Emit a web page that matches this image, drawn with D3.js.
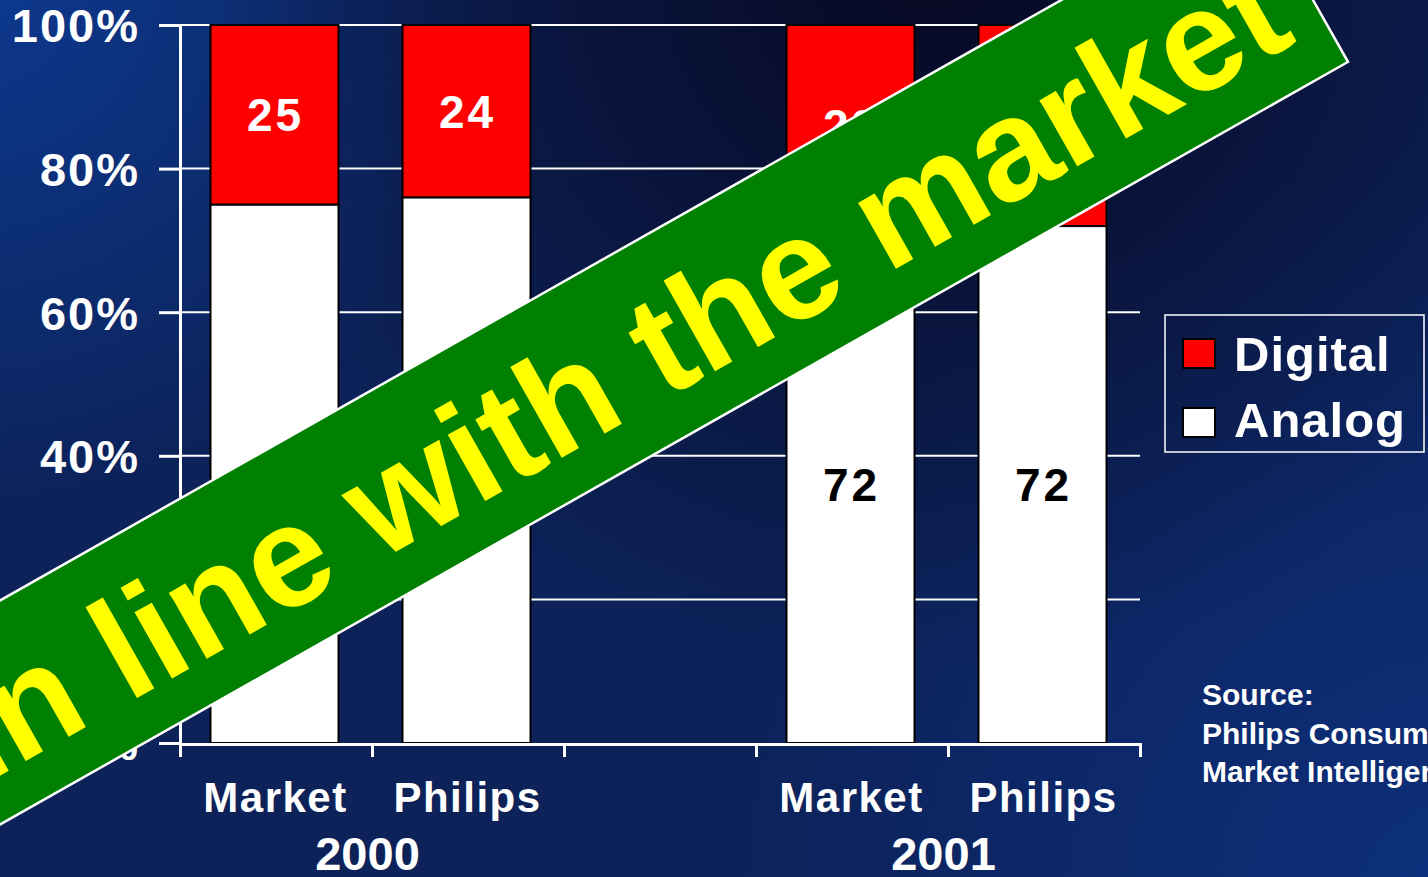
<!DOCTYPE html>
<html>
<head>
<meta charset="utf-8">
<script src="https://cdn.jsdelivr.net/npm/d3@7"></script>
<style>
  html, body { margin: 0; padding: 0; background: #0c2258; overflow: hidden; }
  svg { display: block; font-family: "Liberation Sans", Arial, sans-serif; font-weight: bold; }
</style>
</head>
<body>
<svg id="chart" width="1428" height="877"></svg>
<script>
// ---- data ----
const ids        = ["m2000", "p2000", "gap", "m2001", "p2001"];
const categories = ["Market", "Philips", "", "Market", "Philips"];
const analog     = [75, 76, null, 72, 72];
const digital    = [25, 24, null, 28, 28];
const years      = ["2000", "2001"];
const yearSlots  = [[0, 1], [3, 4]];
const yTicks     = [0, 20, 40, 60, 80, 100];
const seriesNames = ["Digital", "Analog"];
const seriesColors = ["#ff0000", "#ffffff"];
const bannerText = "In line with the market";
const sourceLines = ["Source:", "Philips Consumer Electronics", "Market Intelligence"];

const W = 1428, H = 877;
const svg = d3.select("#chart");

// ---- background ----
const defs = svg.append("defs");
function radial(id, cx, cy, r, color, op) {
  const g = defs.append("radialGradient").attr("id", id)
    .attr("gradientUnits", "userSpaceOnUse").attr("cx", cx).attr("cy", cy).attr("r", r);
  g.append("stop").attr("offset", "0%").attr("stop-color", color).attr("stop-opacity", op);
  g.append("stop").attr("offset", "100%").attr("stop-color", color).attr("stop-opacity", 0);
}
radial("gDark", 930, -40, 720, "#070822", 1);
radial("gTL", -40, -40, 560, "#0d3a92", 1);
radial("gBR", 1460, 900, 760, "#0d2f7c", 1);
svg.append("rect").attr("width", W).attr("height", H).attr("fill", "#0c2258");
svg.append("rect").attr("width", W).attr("height", H).attr("fill", "url(#gBR)");
svg.append("rect").attr("width", W).attr("height", H).attr("fill", "url(#gTL)");
svg.append("rect").attr("width", W).attr("height", H).attr("fill", "url(#gDark)");

// ---- scales ----
const x0 = 180, x1 = 1140, yTop = 25, yBot = 743;
const y = d3.scaleLinear().domain([0, 100]).range([yBot, yTop]);
const xb = d3.scaleBand().domain(ids).range([x0 - 1.5, x1 - 1.5]).paddingInner(1/3).paddingOuter(1/6);
const xl = d3.scaleLinear().domain([0, ids.length]).range([x0, x1]);

// ---- gridlines ----
svg.append("g").selectAll("line").data(yTicks.filter(d => d > 0)).join("line")
  .attr("x1", x0).attr("x2", x1).attr("y1", d => y(d)).attr("y2", d => y(d))
  .attr("stroke", "#ffffff").attr("stroke-width", 2);

// ---- bars ----
const rows = ids.map((id, i) => ({ id, Digital: digital[i], Analog: analog[i] }))
  .filter(r => r.Analog !== null);
const stack = d3.stack().keys(["Analog", "Digital"]);
const stacked = stack(rows);
const colorOf = k => seriesColors[seriesNames.indexOf(k)];

const barG = svg.append("g");
stacked.forEach(layer => {
  barG.append("g").selectAll("rect").data(layer).join("rect")
    .attr("x", d => xb(d.data.id))
    .attr("width", xb.bandwidth())
    .attr("y", d => y(d[1]))
    .attr("height", d => y(d[0]) - y(d[1]))
    .attr("fill", colorOf(layer.key))
    .attr("stroke", "#000000").attr("stroke-width", 2);
  barG.append("g").selectAll("text").data(layer).join("text")
    .attr("x", d => xb(d.data.id) + xb.bandwidth() / 2 + 1)
    .attr("y", d => y((d[0] + d[1]) / 2))
    .attr("dy", "0.36em")
    .attr("text-anchor", "middle")
    .attr("font-size", 46).attr("letter-spacing", 3)
    .attr("fill", layer.key === "Digital" ? "#ffffff" : "#000000")
    .text(d => d.data[layer.key]);
});

// ---- axes ----
const yAxis = d3.axisLeft(y).tickValues(yTicks).tickFormat(d => d + "%")
  .tickSize(21).tickSizeOuter(0).tickPadding(19);
const yg = svg.append("g").attr("transform", `translate(${x0},0)`).call(yAxis);
yg.selectAll("path, line").attr("stroke", "#ffffff").attr("stroke-width", 3);
yg.selectAll("text").attr("fill", "#ffffff").attr("font-size", 47).attr("letter-spacing", 2)
  .attr("font-family", "'Liberation Sans', Arial, sans-serif").attr("font-weight", "bold")
  .attr("dy", "0.36em");

const xAxis = d3.axisBottom(xl).tickValues(d3.range(ids.length + 1)).tickFormat("")
  .tickSize(13).tickSizeOuter(13);
const xg = svg.append("g").attr("transform", `translate(0,${yBot + 1})`).call(xAxis);
xg.selectAll("path, line").attr("stroke", "#ffffff").attr("stroke-width", 3);

// category labels
svg.append("g").selectAll("text").data(ids.map((id, i) => ({ id, label: categories[i] })).filter(d => d.label))
  .join("text")
  .attr("x", d => xb(d.id) + xb.bandwidth() / 2 + 1)
  .attr("y", 812)
  .attr("text-anchor", "middle")
  .attr("font-size", 42).attr("letter-spacing", 1.5)
  .attr("fill", "#ffffff")
  .text(d => d.label);

// year labels
svg.append("g").selectAll("text").data(years.map((yr, i) => ({ yr, slots: yearSlots[i] })))
  .join("text")
  .attr("x", d => (xb(ids[d.slots[0]]) + xb(ids[d.slots[1]]) + xb.bandwidth()) / 2 - 3)
  .attr("y", 870)
  .attr("text-anchor", "middle")
  .attr("font-size", 47)
  .attr("fill", "#ffffff")
  .text(d => d.yr);

// ---- legend ----
const lg = svg.append("g");
lg.append("rect").attr("x", 1165).attr("y", 315).attr("width", 259).attr("height", 137)
  .attr("fill", "none").attr("stroke", "#ffffff").attr("stroke-width", 1.5);
seriesNames.forEach((name, i) => {
  lg.append("rect").attr("x", 1183).attr("y", 339 + i * 69).attr("width", 32).attr("height", 29)
    .attr("fill", seriesColors[i]).attr("stroke", "#000000").attr("stroke-width", 2);
  lg.append("text").attr("x", 1234).attr("y", 371 + i * 66)
    .attr("font-size", 49).attr("letter-spacing", 1).attr("fill", "#ffffff").text(name);
});

// ---- source ----
svg.append("g").selectAll("text").data(sourceLines).join("text")
  .attr("x", 1202).attr("y", (d, i) => 705 + i * 38.5)
  .attr("font-size", 30).attr("fill", "#ffffff").text(d => d);

// ---- banner ----
const ang = -29.5;
const bg = svg.append("g").attr("transform", `translate(1300,-23) rotate(${ang})`);
bg.append("rect").attr("x", -1950).attr("y", -97.5).attr("width", 1950).attr("height", 195)
  .attr("fill", "#008000").attr("stroke", "#ffffff").attr("stroke-width", 2.5);
bg.append("text").attr("x", -33).attr("y", 55).attr("text-anchor", "end")
  .attr("font-size", 144).attr("fill", "#ffff00").text(bannerText);
</script>
</body>
</html>
